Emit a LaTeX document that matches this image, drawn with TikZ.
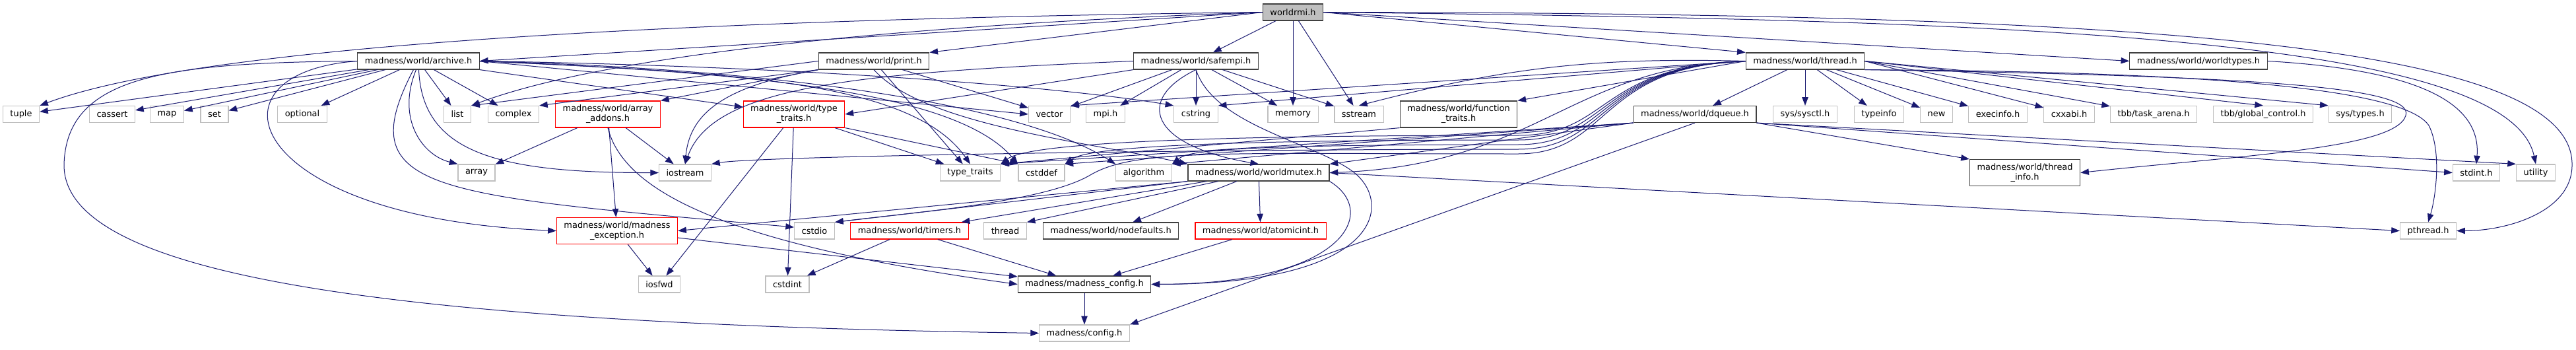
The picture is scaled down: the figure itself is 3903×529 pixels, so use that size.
\documentclass[tikz,border=0pt]{standalone}
\usepackage{fontspec}
\setmainfont{DejaVu Sans}
\usepackage{tikz}
\usetikzlibrary{arrows.meta}
\definecolor{edgec}{HTML}{191970}
\definecolor{boxc}{HTML}{404040}
\definecolor{extc}{HTML}{BFBFBF}
\definecolor{rootc}{HTML}{BFBFBF}
\definecolor{badc}{HTML}{FF0000}
\tikzset{
  dep/.style={-{Triangle[length=9.5pt,width=7pt]},edgec,line width=0.75pt},
  hdr/.style={draw=boxc,line width=0.9pt,fill=white,inner xsep=8.3pt,inner ysep=0pt,minimum height=18.75pt,align=center,font=\fontsize{9.7}{11.25}\selectfont},
  ext/.style={hdr,draw=extc},
  bad/.style={hdr,draw=badc},
  rootbox/.style={hdr,fill=rootc},
  two/.style={minimum height=30pt}
}
\begin{document}
\begin{tikzpicture}[x=0.75pt,y=-0.75pt]
\useasboundingbox (0,0) rectangle (3903,529);
% headers
\node[rootbox] (rmi) at (1959,18.5) {worldrmi.h};
\node[hdr] (archive) at (634,92.5) {madness/world/archive.h};
\node[hdr] (print) at (1324,92.5) {madness/world/print.h};
\node[hdr] (safempi) at (1812,92.5) {madness/world/safempi.h};
\node[hdr] (threadh) at (2735,92.5) {madness/world/thread.h};
\node[hdr] (wtypes) at (3331,92.5) {madness/world/worldtypes.h};
% second row
\node[ext] (tuple) at (32,173) {tuple};
\node[ext] (cassert) at (170,173) {cassert};
\node[ext] (map) at (253,173) {map};
\node[ext] (set) at (325,173) {set};
\node[ext] (optional) at (458,173) {optional};
\node[ext] (list) at (693,173) {list};
\node[ext] (complex) at (778,173) {complex};
\node[bad,two] (addons) at (921,173) {madness/world/array\\\_addons.h};
\node[bad,two] (mtraits) at (1203,173) {madness/world/type\\\_traits.h};
\node[ext] (vector) at (1590,173) {vector};
\node[ext] (mpi) at (1675,173) {mpi.h};
\node[ext] (cstring) at (1812,173) {cstring};
\node[ext] (memory) at (1959,173) {memory};
\node[ext] (sstream) at (2059,173) {sstream};
\node[hdr,two] (ftraits) at (2210,173) {madness/world/function\\\_traits.h};
\node[hdr] (dqueue) at (2568,173) {madness/world/dqueue.h};
\node[ext] (sysctl) at (2735,173) {sys/sysctl.h};
\node[ext] (typeinfo) at (2847,173) {typeinfo};
\node[ext] (new) at (2934,173) {new};
\node[ext] (execinfo) at (3027,173) {execinfo.h};
\node[ext] (cxxabi) at (3135,173) {cxxabi.h};
\node[ext] (arena) at (3263,173) {tbb/task\_arena.h};
\node[ext] (gctl) at (3429,173) {tbb/global\_control.h};
\node[ext] (systypes) at (3576,173) {sys/types.h};
% third row
\node[ext] (array) at (722,261.5) {array};
\node[ext] (iostream) at (1038,261.5) {iostream};
\node[ext] (stdtraits) at (1470,261.5) {type\_traits};
\node[ext] (cstddef) at (1578,261.5) {cstddef};
\node[ext] (algorithm) at (1733,261.5) {algorithm};
\node[hdr] (mutex) at (1907,261.5) {madness/world/worldmutex.h};
\node[hdr,two] (tinfo) at (3068,261.5) {madness/world/thread\\\_info.h};
\node[ext] (stdint) at (3752,261.5) {stdint.h};
\node[ext] (utility) at (3842,261.5) {utility};
% fourth row
\node[bad,two] (mexc) at (935,349.5) {madness/world/madness\\\_exception.h};
\node[ext] (cstdio) at (1234,349.5) {cstdio};
\node[bad] (timers) at (1378,349.5) {madness/world/timers.h};
\node[ext] (sthread) at (1523,349.5) {thread};
\node[hdr] (nodefaults) at (1683,349.5) {madness/world/nodefaults.h};
\node[bad] (atomic) at (1910,349.5) {madness/world/atomicint.h};
\node[ext] (pthread) at (3679,349.5) {pthread.h};
% bottom rows
\node[ext] (iosfwd) at (999,430.5) {iosfwd};
\node[ext] (cstdint) at (1193,430.5) {cstdint};
\node[hdr] (mconfig) at (1643,430.5) {madness/madness\_config.h};
\node[ext] (config) at (1643,504.5) {madness/config.h};
\coordinate (ploop) at (3897,250);
\coordinate (aloop) at (97,250);
% worldrmi.h
\draw[dep] (rmi.west) .. controls (1000,30) and (300,70) .. (tuple.north east);
\draw[dep] (rmi.west) -- (archive.east);
\draw[dep] (rmi.west) .. controls (1300,40) and (900,90) .. (list.north east);
\draw[dep] (rmi.west) -- (print.north east);
\foreach \t in {safempi,memory,sstream} \draw[dep] (rmi) -- (\t);
\draw[dep] (rmi.east) -- (threadh.north west);
\draw[dep] (rmi.east) -- (wtypes.west);
\draw[dep] (rmi.east) .. controls (3000,30) and (3800,50) .. (utility.north);
\draw[dep] (rmi.east) .. controls (3200,20) and (3900,60) .. (ploop) .. controls (3897,320) and (3800,349.5) .. (pthread.east);
% archive.h
\foreach \t in {tuple,cassert,map,set,optional,list,complex} \draw[dep] (archive) -- (\t);
\draw[dep] (archive.-105) .. controls (600,180) and (640,235) .. (array.north west);
\draw[dep] (archive.-88) .. controls (640,230) and (750,262) .. (iostream.west);
\draw[dep] (archive.-120) .. controls (530,290) and (650,295) .. (cstdio.170);
\draw[dep] (archive.west) .. controls (300,110) and (370,330) .. (mexc.west);
\draw[dep] (archive.west) .. controls (250,95) and (100,115) .. (aloop) .. controls (97,420) and (600,490) .. (config.west);
\draw[dep] (archive) -- (mtraits);
\draw[dep] (archive.east) -- (vector.west);
\draw[dep] (archive.east) .. controls (1100,110) and (1380,120) .. (stdtraits.north);
\draw[dep] (archive.east) .. controls (1150,110) and (1450,140) .. (cstddef.north west);
\draw[dep] (archive.east) .. controls (1200,105) and (1550,160) .. (algorithm.north west);
\draw[dep] (archive.east) .. controls (1200,100) and (1600,130) .. (cstring.north west);
% print.h
\draw[dep] (print.west) -- (list.north east);
\draw[dep] (print.south west) -- (complex.north east);
\draw[dep] (print.south west) -- (addons.north east);
\draw[dep] (print.south west) .. controls (1100,130) and (1045,170) .. (iostream.north);
\foreach \t in {vector,stdtraits} \draw[dep] (print) -- (\t);
\draw[dep] (print.south) .. controls (1400,190) and (1650,215) .. (mutex.north west);
% safempi.h
\foreach \t in {vector,mpi,cstring,memory,sstream} \draw[dep] (safempi) -- (\t);
\draw[dep] (safempi.south west) -- (mtraits.east);
\draw[dep] (safempi.west) .. controls (1300,110) and (1080,130) .. (iostream.north);
\draw[dep] (safempi.south) .. controls (1720,150) and (1740,220) .. (mutex.north);
\draw[dep] (safempi.south) .. controls (1840,190) and (1990,215) .. (2050,260) .. controls (2110,305) and (2100,430) .. (mconfig.east);
% thread.h
\draw[dep] (threadh.west) -- (ftraits.north east);
\draw[dep] (threadh.west) to[bend right=8] (sstream.north);
\draw[dep] (threadh.west) -- (cstring.north east);
\draw[dep] (threadh.west) -- (vector.north east);
\draw[dep] (threadh.west) .. controls (2380,100) and (2330,250) .. (mutex.east);
\foreach \t/\v/\c in {stdtraits/205/1560,cstddef/212/1650,algorithm/219/1800,iostream/226/1150}
  \draw[dep] (threadh.west) .. controls (2420,100) and (2440,\v) .. (2300,\v) .. controls (1850,\v) and (\c,\v+10) .. (\t.north east);
\draw[dep] (threadh.west) .. controls (2420,100) and (2440,233) .. (2300,233) .. controls (1850,233) and (1720,225) .. (1652,265) .. controls (1584,305) and (1400,320) .. (cstdio.north east);
\foreach \t in {dqueue,sysctl,typeinfo,new,execinfo} \draw[dep] (threadh) -- (\t);
\foreach \t in {cxxabi,arena} \draw[dep] (threadh.east) -- (\t);
\draw[dep] (threadh.east) -- (gctl.north);
\draw[dep] (threadh.east) -- (systypes.north west);
\draw[dep] (threadh.south east) .. controls (3300,108) and (3640,130) .. (3680,190) .. controls (3700,230) and (3690,300) .. (pthread.north);
\draw[dep] (threadh.south east) .. controls (3400,115) and (3660,130) .. (3645,175) .. controls (3630,225) and (3400,235) .. (tinfo.east);
% dqueue.h
\foreach \t in {stdtraits,cstddef,algorithm,mutex} \draw[dep] (dqueue.south west) -- (\t.north east);
\draw[dep] (dqueue.south) -- (config.north east);
\draw[dep] (dqueue.south east) -- (tinfo.north west);
\draw[dep] (dqueue.south east) -- (stdint.west);
\draw[dep] (dqueue.south east) -- (utility.north west);
% worldtypes.h, function_traits.h
\draw[dep] (wtypes.east) .. controls (3650,105) and (3760,150) .. (stdint.north);
\draw[dep] (ftraits.south west) -- (stdtraits.north east);
% type_traits.h
\draw[dep] (mtraits) -- (stdtraits);
\draw[dep] (mtraits.south east) -- (cstddef.north west);
\draw[dep] (mtraits) -- (iosfwd);
\draw[dep] (mtraits) -- (cstdint);
% array_addons.h, madness_exception.h
\foreach \t in {array,iostream,mexc} \draw[dep] (addons) -- (\t);
\draw[dep] (addons.south) .. controls (945,290) and (1100,370) .. (mconfig.west);
\draw[dep] (mexc) -- (iosfwd);
\draw[dep] (mexc) -- (mconfig);
% worldmutex.h
\draw[dep] (mutex.south west) -- (mexc.east);
\draw[dep] (mutex.south west) -- (cstdio.north east);
\draw[dep] (mutex) -- (timers);
\draw[dep] (mutex) -- (sthread.north east);
\foreach \t in {nodefaults,atomic} \draw[dep] (mutex) -- (\t);
\draw[dep] (mutex.south east) .. controls (2090,320) and (2040,430) .. (mconfig.east);
\draw[dep] (mutex.east) -- (pthread.west);
% the rest
\draw[dep] (timers) -- (cstdint);
\draw[dep] (timers) -- (mconfig);
\draw[dep] (atomic) -- (mconfig);
\draw[dep] (mconfig) -- (config);
\end{tikzpicture}
\end{document}
